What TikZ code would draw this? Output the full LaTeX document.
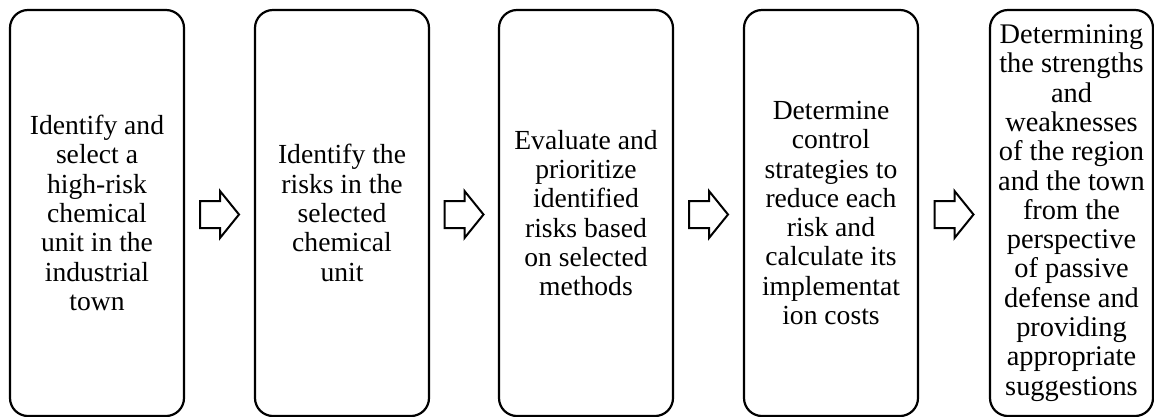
\documentclass[tikz,border=0pt]{standalone}
\usepackage{fontspec}
\setmainfont{Liberation Serif}
\usetikzlibrary{calc}
\begin{document}
\begin{tikzpicture}[x=1pt,y=-1pt,
  stepbox/.style={draw, line width=2.2pt, rounded corners=18pt,
    minimum width=174pt, minimum height=406pt, align=center, inner sep=0pt,
    font=\fontsize{27.6}{29.3}\selectfont},
  barrow/.style={draw, line width=2pt, fill=white, line join=miter}]
\useasboundingbox (0,0) rectangle (1154,416);
\node[stepbox] (b1) at (97,213) {Identify and\\select a\\high-risk\\chemical\\unit in the\\industrial\\town};
\node[stepbox] (b2) at (342,213) {Identify the\\risks in the\\selected\\chemical\\unit};
\node[stepbox] (b3) at (586,213) {Evaluate and\\prioritize\\identified\\risks based\\on selected\\methods};
\node[stepbox] (b4) at (831,213) {Determine\\control\\strategies to\\reduce each\\risk and\\calculate its\\implementat\\ion costs};
\node[stepbox, minimum width=163pt, font=\fontsize{28.4}{29.3}\selectfont] (b5) at (1071.5,213) {Determining\\the strengths\\and\\weaknesses\\of the region\\and the town\\from the\\perspective\\of passive\\defense and\\providing\\appropriate\\suggestions};
\foreach \a/\b/\i in {b1/b2/1, b2/b3/2, b3/b4/3, b4/b5/4}{
  \coordinate (m\i) at ($(\a.east)!0.5!(\b.west)+(0,1.5)$);
  \begin{scope}[shift={(m\i)}]
    \draw[barrow] (-19.5,-13.5) -- (0.5,-13.5) -- (0.5,-23.5) -- (19.5,0)
      -- (0.5,23.5) -- (0.5,13.5) -- (-19.5,13.5) -- cycle;
  \end{scope}
}
\end{tikzpicture}
\end{document}
